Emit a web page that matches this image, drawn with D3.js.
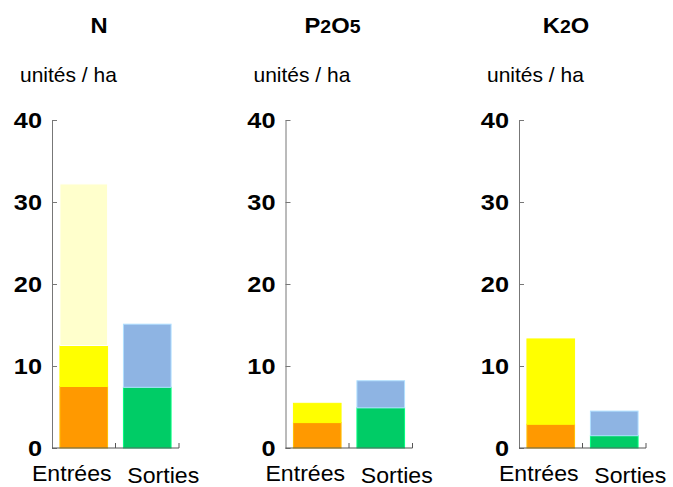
<!DOCTYPE html>
<html>
<head>
<meta charset="utf-8">
<script src="https://cdn.jsdelivr.net/npm/d3@7"></script>
<style>
    body { margin: 0; background: #fff; }
    svg { display: block; font-family: "Liberation Sans", Arial, sans-serif; }
    .domain, .tick line { stroke: #777; }
</style>
</head>
<body>
<svg id="chart" width="673" height="487"></svg>
<script>
    //////////// DATA ////////////

    var nutrients = ["N", "P2O5", "K2O"];
    var categories = ["Entrées", "Sorties"];
    var yTicks = [0, 10, 20, 30, 40];

    // entrées, stacked bottom to top
    var entreesOrange = [7.5, 3.1, 2.9];
    var entreesYellow = [5.0, 2.35, 10.4];
    var entreesPale = [19.7, 0, 0];

    // sorties, stacked bottom to top
    var sortiesGreen = [7.4, 4.9, 1.5];
    var sortiesBlue = [7.7, 3.3, 3.0];

    var entreesColors = ["#ff9900", "#ffff00", "#ffffcc"];
    var sortiesColors = ["#00cc66", "#8eb4e3"];

    //////////// LAYOUT ////////////

    var svg = d3.select("#chart");
    var panelX = [52, 285.5, 519];
    var plotW = 127;

    var y = d3.scaleLinear().domain([0, 40]).range([448, 120]);

    var x = d3.scaleBand()
        .domain(categories)
        .range([0, plotW])
        .paddingInner(0.25)
        .paddingOuter(0.125);

    nutrients.forEach(function (nut, i) {
        var g = svg.append("g").attr("transform", "translate(" + panelX[i] + ",0)");

        // title with small digits
        var title = g.append("text")
            .attr("transform", "translate(47,33) scale(1.08,1)")
            .attr("text-anchor", "middle")
            .attr("font-weight", "bold")
            .attr("font-size", 22);
        nut.split(/(\d)/).filter(function (s) { return s; }).forEach(function (s) {
            title.append("tspan")
                .attr("font-size", /\d/.test(s) ? 18 : 22)
                .text(s);
        });

        g.append("text")
            .attr("transform", "translate(-32,82) scale(1.05,1)")
            .attr("font-size", 20)
            .text("unités / ha");

        // stacked bars
        var stacks = [
            {cat: "Entrées", vals: [entreesOrange[i], entreesYellow[i], entreesPale[i]], colors: entreesColors},
            {cat: "Sorties", vals: [sortiesGreen[i], sortiesBlue[i]], colors: sortiesColors}
        ];
        stacks.forEach(function (s) {
            var base = 0;
            s.vals.forEach(function (v, k) {
                if (v > 0) {
                    g.append("rect")
                        .attr("x", x(s.cat))
                        .attr("width", x.bandwidth())
                        .attr("y", y(base + v))
                        .attr("height", y(base) - y(base + v))
                        .attr("fill", s.colors[k])
                        .attr("stroke", d3.color(s.colors[k]).brighter(0.6))
                        .attr("stroke-width", 1);
                }
                base += v;
            });
        });

        // y axis, ticks pointing inward
        var yAxis = g.append("g")
            .call(d3.axisRight(y).tickValues(yTicks).tickSize(5).tickSizeOuter(0).tickFormat(""));
        yAxis.selectAll(".tick")
            .append("text")
            .attr("transform", "translate(-10,0) scale(1.15,1)")
            .attr("text-anchor", "end")
            .attr("dy", "0.36em")
            .attr("fill", "#000")
            .attr("font-weight", "bold")
            .attr("font-size", 22)
            .attr("font-family", "Liberation Sans, Arial, sans-serif")
            .text(function (d) { return d; });

        // x axis baseline with upward ticks between bands
        g.append("line")
            .attr("x1", 0).attr("x2", plotW)
            .attr("y1", y(0)).attr("y2", y(0))
            .attr("stroke", "#555");
        [plotW / 2, plotW].forEach(function (tx) {
            g.append("line")
                .attr("x1", tx).attr("x2", tx)
                .attr("y1", y(0)).attr("y2", y(0) - 5)
                .attr("stroke", "#555");
        });

        // category labels
        var labelDx = [-12, 16];
        var labelY = [481, 483];
        categories.forEach(function (c, k) {
            g.append("text")
                .attr("transform", "translate(" + (x(c) + x.bandwidth() / 2 + labelDx[k]) + "," + labelY[k] + ") scale(1.05,1)")
                .attr("text-anchor", "middle")
                .attr("font-size", 22)
                .text(c);
        });
    });
</script>
</body>
</html>
